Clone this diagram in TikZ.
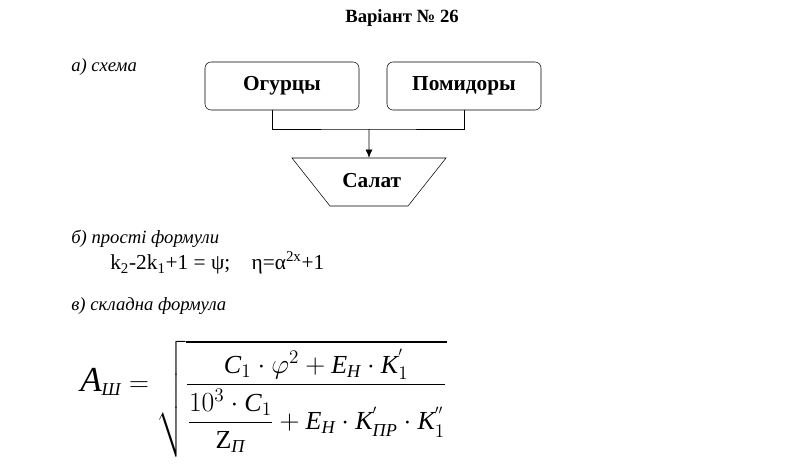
\documentclass[tikz,border=0pt]{standalone}
\usepackage{amsmath}
\usepackage{graphicx}
\usepackage{fontspec}
\setmainfont{Liberation Serif}
\usetikzlibrary{shapes.geometric,arrows.meta}

\begin{document}
\begin{tikzpicture}[x=0.75pt,y=-0.75pt,
    box/.style={draw, rounded corners=4.5pt, minimum width=115.5pt, minimum height=36pt,
      font=\fontsize{16}{18}\selectfont\bfseries},
    lbl/.style={anchor=west, inner sep=0pt, font=\fontsize{14}{16}\selectfont\itshape}]
  \useasboundingbox (0,0) rectangle (788,464);

  \node[font=\fontsize{14}{16}\selectfont\bfseries] (title) at (402,18) {Варіант № 26};

  % a) scheme
  \node[lbl] (schema) at (71,67) {а) схема};
  \node[box] (ogurtsy) at (282,86) {Огурцы};
  \node[box] (pomidory) at (464,86) {Помидоры};
  \node[draw, trapezium, shape border rotate=180, trapezium angle=51.6,
    text width=40pt, align=center, text height=11pt, text depth=3.5pt,
    inner xsep=9.25pt, inner ysep=10.75pt,
    font=\fontsize{16}{18}\selectfont\bfseries] (salat) at (369,182) {Салат};
  \coordinate (join) at (369,129);
  \draw ([xshift=-7.5pt]ogurtsy.south) |- (join) -| (pomidory.south);
  \draw[-{Latex[length=6pt,width=5pt]}] (join) -- (salat.north);

  % b) simple formulas
  \node[lbl] (simple) at (71,239) {б) прості формули};
  \node[anchor=west, inner sep=0pt, font=\fontsize{16}{18}\selectfont] (fsimple) at (110,263)
    {k\textsubscript{2}-2k\textsubscript{1}+1 = ψ;\quad η=α\textsuperscript{2x}+1};

  % c) complex formula
  \node[lbl] (complex) at (71,306) {в) складна формула};
  \node[anchor=west, inner sep=0pt, font=\fontsize{19.5}{22}\selectfont] (fcomplex) at (80,399)
    {$\scalebox{1.35}{$\mathit{A}$}_{\textit{Ш}} = \sqrt{\dfrac{\mathit{C}_1\cdot\varphi^2 + \mathit{E}_{\textit{Н}}\cdot \mathit{K}_1^{'}}
      {\dfrac{10^3\cdot \mathit{C}_1}{\mathrm{Z}_{\textit{П}}} + \mathit{E}_{\textit{Н}}\cdot\mathit{K}_{\textit{ПР}}^{'}\cdot\mathit{K}_1^{''}}}$};
\end{tikzpicture}
\end{document}
